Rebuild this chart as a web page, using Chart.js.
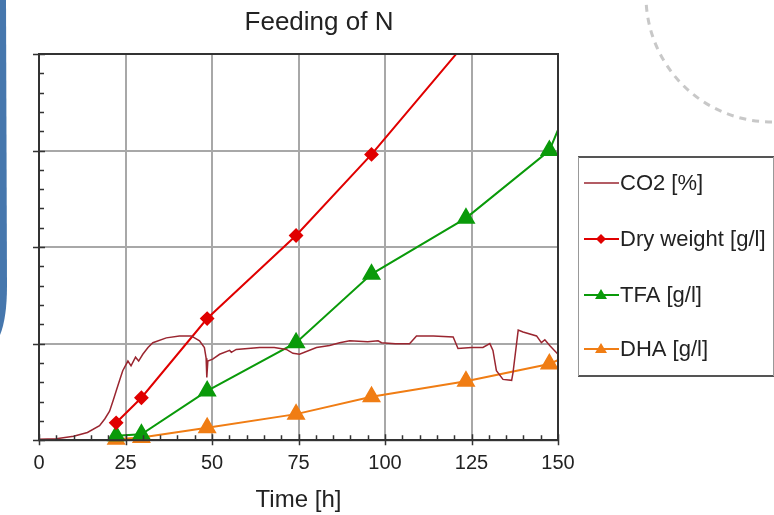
<!DOCTYPE html>
<html>
<head>
<meta charset="utf-8">
<script src="https://cdn.jsdelivr.net/npm/chart.js@4/dist/chart.umd.min.js"></script>
<style>
  body { margin: 0; background: #fff; }
  canvas { display: block; }
</style>
</head>
<body>
<canvas id="chart" width="774" height="515"></canvas>
<script>
// ---- data (y in grid units, 4 gridlines, no labels) ----
const xTicks = [0, 25, 50, 75, 100, 125, 150];

const sampleTime = [22.3, 29.6, 48.6, 74.3, 96.1, 123.4, 147.5, 160];
const dryWeight  = [0.18, 0.44, 1.26, 2.12, 2.96, 4.12, 5.2, 6.5];
const tfa        = [0.045, 0.062, 0.51, 1.01, 1.72, 2.30, 3.0, 4.07];
const dha        = [0.01, 0.027, 0.13, 0.27, 0.45, 0.61, 0.79, 0.99];

const co2Time  = [0, 5, 10, 14, 17.5, 19, 20.4, 21.5, 22.3, 23.3, 24.2, 25.7, 26.6, 27.9, 28.8, 30, 31.5, 32.9,
                  36.8, 40.6, 44, 46.4, 47.8, 48.3, 48.5, 48.8, 50.2, 52.2, 55.1, 55.6, 57, 63.8, 68, 71.5, 73.4,
                  75.3, 80.2, 84, 86.9, 89.8, 95, 98, 99, 103, 107.1, 109.1, 114, 119.7, 121.1, 125, 128.3,
                  130.3, 131.2, 132.2, 134.1, 136.6, 137, 138.5, 139.9, 143.8, 145.2, 146.2, 147.6, 150];
const co2Level = [0.01, 0.015, 0.04, 0.08, 0.15, 0.22, 0.30, 0.42, 0.51, 0.62, 0.72, 0.82, 0.77, 0.86, 0.82, 0.89, 0.96, 1.01,
                  1.06, 1.08, 1.08, 1.03, 0.96, 0.85, 0.65, 0.82, 0.84, 0.89, 0.93, 0.91, 0.94, 0.96, 0.96, 0.94, 0.90,
                  0.89, 0.96, 0.98, 1.01, 1.03, 1.02, 1.03, 1.01, 1.0, 1.0, 1.08, 1.08, 1.07, 0.95, 0.96, 0.96,
                  1.0, 0.93, 0.72, 0.63, 0.62, 0.70, 1.14, 1.12, 1.08, 1.01, 1.04, 0.98, 0.89];

const FONT = '"Liberation Sans", Arial, sans-serif';

function pairs(xs, ys) {
    return xs.map(function (x, i) { return { x: x, y: ys[i] }; });
}

// slide background bits + frame, minor ticks, title and legend box
const extras = {
    id: 'extras',
    beforeDraw(chart) {
        const c = chart.ctx;
        c.save();
        c.fillStyle = '#fff';
        c.fillRect(0, 0, chart.width, chart.height);
        // blue band on the left
        c.fillStyle = '#4677ad';
        c.beginPath();
        c.moveTo(0, 0);
        c.lineTo(6, 0);
        c.lineTo(7, 285);
        c.quadraticCurveTo(7, 318, 0, 335);
        c.closePath();
        c.fill();
        // dashed arc top right
        c.strokeStyle = '#c8c8c8';
        c.lineWidth = 3;
        c.setLineDash([7, 6]);
        c.beginPath();
        c.arc(772, -4, 126, Math.PI * 0.5, Math.PI * 0.98);
        c.stroke();
        c.restore();
    },
    afterDraw(chart) {
        const c = chart.ctx;
        const a = chart.chartArea;
        const xs = chart.scales.x, ys = chart.scales.y;
        c.save();
        c.strokeStyle = '#333';
        c.lineWidth = 2;
        c.strokeRect(a.left, a.top, a.right - a.left, a.bottom - a.top);

        c.lineWidth = 1.5;
        c.beginPath();
        for (let i = 0; i <= 20; i++) {
            const py = Math.round(ys.getPixelForValue(i * 0.2)) + 0.5;
            if (i % 5 === 0) { c.moveTo(a.left - 6, py); c.lineTo(a.left + 6, py); }
            else { c.moveTo(a.left, py); c.lineTo(a.left + 5, py); }
        }
        for (let t = 0; t <= 150; t += 5) {
            const px = Math.round(xs.getPixelForValue(t)) + 0.5;
            if (t % 25 === 0) { c.moveTo(px, a.bottom + 5); c.lineTo(px, a.bottom - 6); }
            else { c.moveTo(px, a.bottom); c.lineTo(px, a.bottom - 5); }
        }
        c.stroke();

        // title
        c.fillStyle = '#222';
        c.font = '26px ' + FONT;
        c.textAlign = 'center';
        c.textBaseline = 'alphabetic';
        c.fillText('Feeding of N', 319, 30);

        // legend box
        c.strokeStyle = '#555';
        c.lineWidth = 2;
        c.beginPath();
        c.moveTo(578, 157); c.lineTo(774, 157);
        c.moveTo(578, 376); c.lineTo(774, 376);
        c.stroke();
        c.strokeStyle = '#999';
        c.lineWidth = 1;
        c.beginPath();
        c.moveTo(578.5, 157); c.lineTo(578.5, 376);
        c.moveTo(773.5, 157); c.lineTo(773.5, 376);
        c.stroke();

        const rows = [183, 239, 295, 349];
        c.font = '22px ' + FONT;
        c.textAlign = 'left';
        c.textBaseline = 'middle';
        chart.data.datasets.forEach(function (ds, i) {
            const y = rows[i];
            c.strokeStyle = ds.borderColor;
            c.lineWidth = ds.borderWidth;
            c.beginPath();
            c.moveTo(584, y); c.lineTo(619, y);
            c.stroke();
            c.fillStyle = ds.borderColor;
            if (ds.pointStyle === 'rectRot') {
                c.beginPath();
                c.moveTo(601, y - 5); c.lineTo(606, y); c.lineTo(601, y + 5); c.lineTo(596, y);
                c.closePath(); c.fill();
            } else if (ds.pointStyle === 'triangle') {
                c.beginPath();
                c.moveTo(601, y - 6); c.lineTo(607, y + 4); c.lineTo(595, y + 4);
                c.closePath(); c.fill();
            }
            c.fillStyle = '#222';
            c.fillText(ds.label, 620, y + 1);
        });
        c.restore();
    }
};

const ctx = document.getElementById('chart').getContext('2d');
const myChart = new Chart(ctx, {
    type: 'line',
    data: {
        datasets: [{
            label: 'CO2 [%]',
            data: pairs(co2Time, co2Level),
            borderColor: '#9a2630',
            borderWidth: 1.5,
            pointRadius: 0,
            clip: { left: 10, top: 0, right: 0, bottom: 10 }
        }, {
            label: 'Dry weight [g/l]',
            data: pairs(sampleTime, dryWeight),
            borderColor: '#e00000',
            backgroundColor: '#e00000',
            borderWidth: 2,
            pointStyle: 'rectRot',
            pointRadius: 6,
            clip: { left: 10, top: 0, right: 0, bottom: 10 }
        }, {
            label: 'TFA [g/l]',
            data: pairs(sampleTime, tfa),
            borderColor: '#0a9a0a',
            backgroundColor: '#0a9a0a',
            borderWidth: 2,
            pointStyle: 'triangle',
            pointRadius: 9,
            clip: { left: 10, top: 0, right: 0, bottom: 10 }
        }, {
            label: 'DHA [g/l]',
            data: pairs(sampleTime, dha),
            borderColor: '#f07d14',
            backgroundColor: '#f07d14',
            borderWidth: 2,
            pointStyle: 'triangle',
            pointRadius: 9,
            clip: { left: 10, top: 0, right: 0, bottom: 10 }
        }]
    },
    options: {
        responsive: false,
        animation: false,
        layout: { padding: { left: 39, right: 216, top: 54, bottom: 0 } },
        plugins: {
            legend: { display: false },
            tooltip: { enabled: false }
        },
        scales: {
            x: {
                type: 'linear',
                min: 0,
                max: 150,
                afterBuildTicks: function (scale) {
                    scale.ticks = xTicks.map(function (v) { return { value: v }; });
                },
                grid: { color: '#a8a8a8', lineWidth: 2, drawTicks: false },
                border: { color: '#333', width: 2 },
                ticks: { color: '#222', font: { family: FONT, size: 20 }, padding: 11, maxRotation: 0 },
                title: {
                    display: true,
                    text: 'Time [h]',
                    color: '#222',
                    font: { family: FONT, size: 24 },
                    padding: { top: 0, bottom: 0 }
                }
            },
            y: {
                min: 0,
                max: 4,
                ticks: { display: false, stepSize: 1 },
                grid: { color: '#a8a8a8', lineWidth: 2, drawTicks: false },
                border: { color: '#333', width: 2 }
            }
        }
    },
    plugins: [extras]
});
</script>
</body>
</html>
